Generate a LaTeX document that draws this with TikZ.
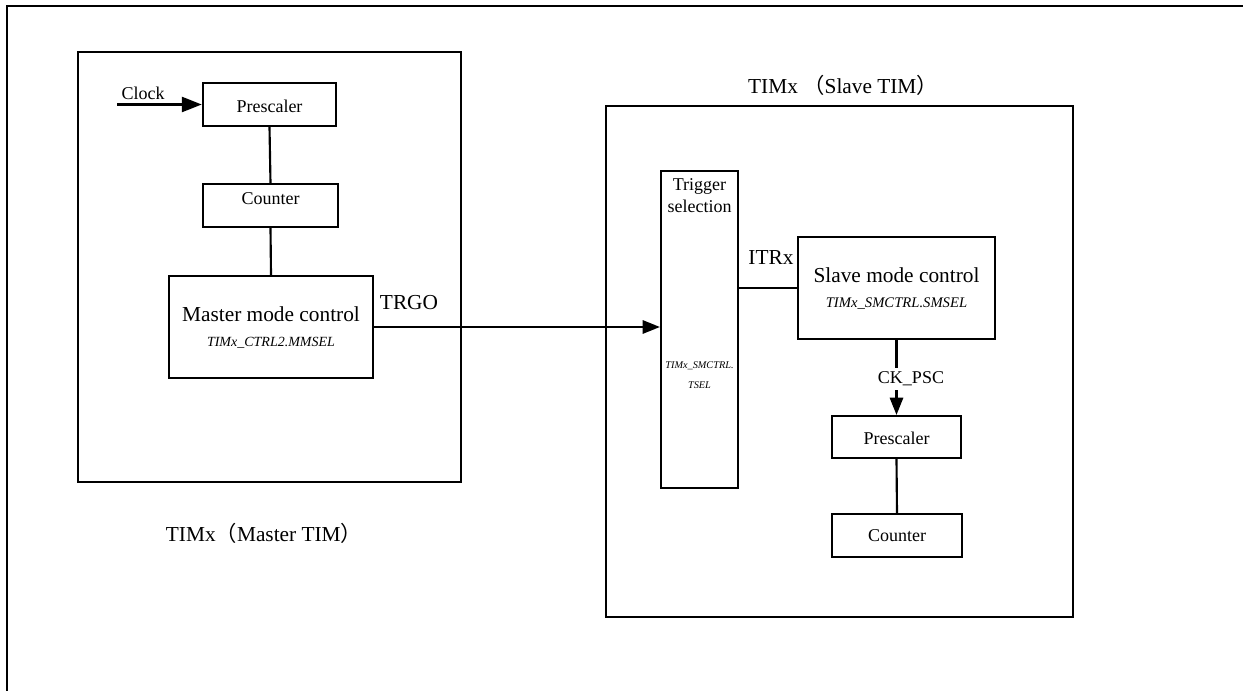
\documentclass[tikz,border=0pt]{standalone}
\usepackage{fontspec}
\setmainfont{Liberation Serif}
\newfontfamily\cjk{Noto Sans CJK SC}
\usetikzlibrary{arrows.meta}

\tikzset{
	blk/.style={draw, inner sep=0pt},
	txt/.style={inner sep=0.75pt, font=\fontsize{13.5}{16}\selectfont},
	bigtxt/.style={inner sep=0.75pt, font=\fontsize{16}{19}\selectfont},
	regtxt/.style={inner sep=0.75pt, font=\fontsize{10.5}{12}\selectfont\itshape},
	sig/.style={-{Triangle[length=13pt,width=10pt]}}
}

\begin{document}
\begin{tikzpicture}[x=0.75pt,y=0.75pt,yscale=-1,xscale=1,line width=1.6pt]
	\useasboundingbox (0,0) rectangle (1243,691);
	
	%Outer frame
	\draw (7,691) -- (7,6) -- (1243,6) ;
	%Master TIM frame
	\draw (78,52) rectangle (461,482) ;
	%Slave TIM frame
	\draw (606,106) rectangle (1073,617) ;
	
	% Master blocks
	\node [blk, minimum width=99.75pt, minimum height=32.25pt] (pre1) at (269.5,104.5) {};
	\node [blk, minimum width=101.25pt, minimum height=32.25pt] (cnt1) at (270.5,205.5) {};
	\node [blk, minimum width=153pt, minimum height=76.5pt] (mmc) at (271,327) {};
	% Slave blocks
	\node [blk, minimum width=57.75pt, minimum height=237.75pt] (trig) at (699.5,329.5) {};
	\node [blk, minimum width=147.75pt, minimum height=76.5pt] (smc) at (896.5,288) {};
	\node [blk, minimum width=96.75pt, minimum height=31.5pt] (pre2) at (896.5,437) {};
	\node [blk, minimum width=97.5pt, minimum height=32.25pt] (cnt2) at (897,535.5) {};
	
	\coordinate (clk) at (117,104.5) ;
	
	%Connectors
	\draw [-{Triangle[length=15pt,width=11pt]}, line width=2.4pt] (clk) -- (pre1.west) ;
	\draw (pre1.south) -- (cnt1.north) ;
	\draw (cnt1.south) -- (mmc.north) ;
	\draw [sig] (mmc.east) -- (mmc.east -| trig.west) ;
	\draw (smc.west -| trig.east) -- (smc.west) ;
	\draw [sig] (smc.south) -- (pre2.north) ;
	\draw (pre2.south) -- (cnt2.north) ;
	
	% Text Node
	\node [txt] (clktxt) at (143,93) {Clock};
	% Text Node
	\node [txt] (pre1txt) at (269.5,106) {Prescaler};
	% Text Node
	\node [txt] (cnt1txt) at (270.5,199) {Counter};
	% Text Node
	\node [bigtxt] (mmctxt) at (271,314) {Master mode control};
	% Text Node
	\node [regtxt] (mmcreg) at (271,343) {TIMx\_CTRL2.MMSEL};
	% Text Node
	\node [bigtxt] (trgo) at (409,303) {TRGO};
	% Text Node
	\node [bigtxt] (mlbl) at (264,533) {TIMx{\cjk （}Master TIM{\cjk ）}};
	% Text Node
	\node [bigtxt] (slbl) at (843,85) {TIMx {\cjk （}Slave TIM{\cjk ）}};
	% Text Node
	\node [txt, align=center, font=\fontsize{13.5}{16.5}\selectfont] (trigtxt) at (699.5,196) {Trigger\\selection};
	% Text Node
	\node [regtxt, align=center, font=\fontsize{7.7}{15}\selectfont\itshape] (trigreg) at (699.5,375) {TIMx\_SMCTRL.\\TSEL};
	% Text Node
	\node [bigtxt] (itrx) at (771,258) {ITRx};
	% Text Node
	\node [bigtxt] (smctxt) at (896.5,275) {Slave mode control};
	% Text Node
	\node [regtxt, font=\fontsize{11}{13}\selectfont\itshape] (smcreg) at (896.5,304) {TIMx\_SMCTRL.SMSEL};
	% Text Node
	\node [txt, fill=white, inner ysep=3pt] (ckpsc) at (911,379) {CK\_PSC};
	% Text Node
	\node [txt] (pre2txt) at (896.5,438) {Prescaler};
	% Text Node
	\node [txt] (cnt2txt) at (897,536) {Counter};
	
\end{tikzpicture}
\end{document}
